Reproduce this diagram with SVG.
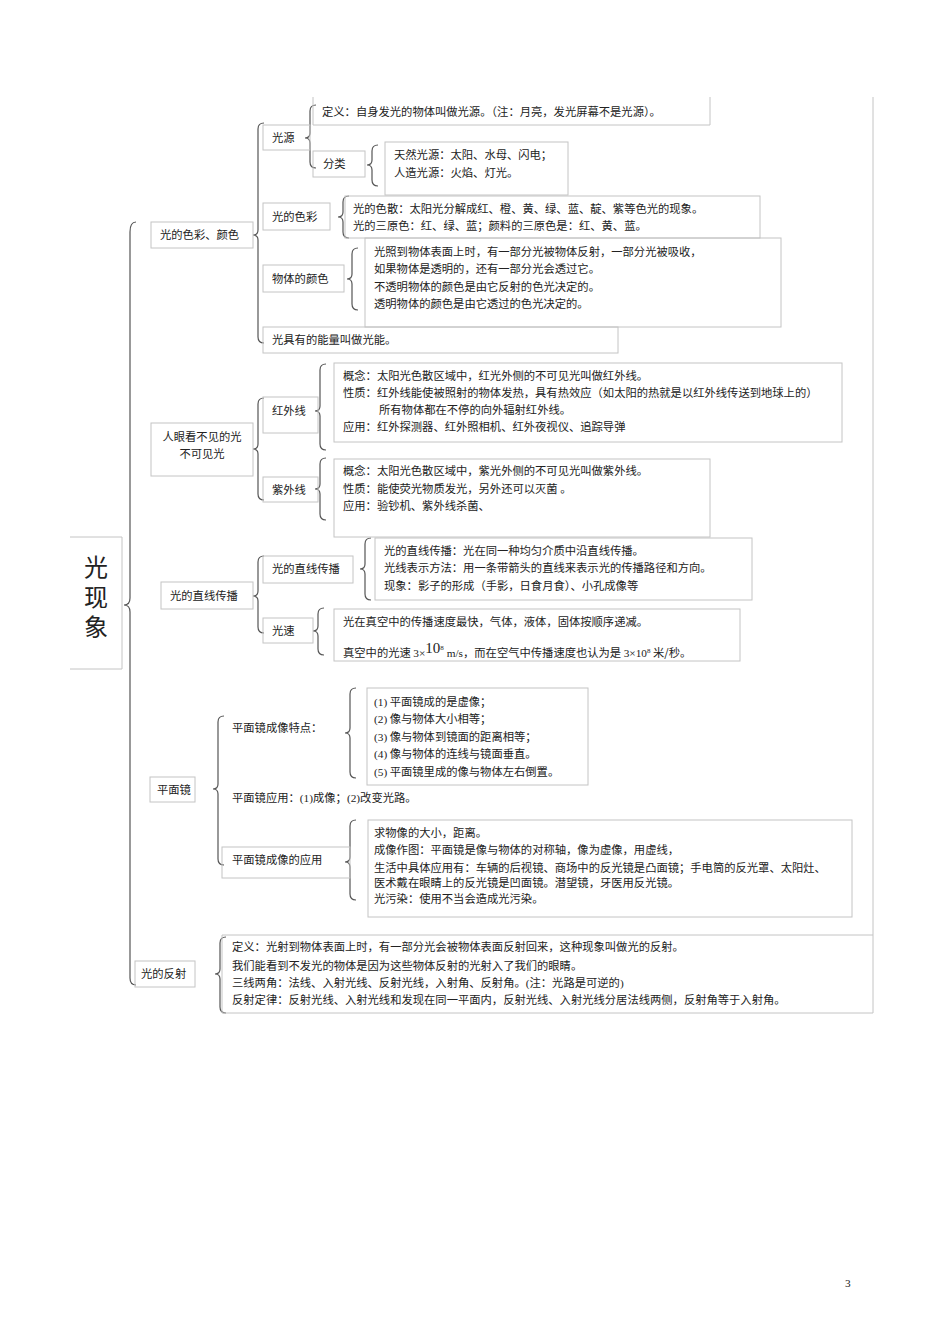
<svg xmlns="http://www.w3.org/2000/svg" width="950" height="1344" viewBox="0 0 950 1344">
<style>
text{font-family:"Noto Sans CJK SC","Liberation Serif",serif;font-size:11.3px;fill:#222}
.s{font-family:"Liberation Serif","Noto Sans CJK SC",serif}
.b{fill:none;stroke:#c4c4c4;stroke-width:1}
.br{fill:none;stroke:#555;stroke-width:1.2}
.big{font-size:24px}
</style>
<rect width="950" height="1344" fill="#fff"/>
<g id="connectors">
<line x1="873" y1="97" x2="873" y2="1013" class="b"/>
<path class="br" d="M136 222 Q130 222 130 232 L130 598 Q130 605 124 605 Q130 605 130 612 L130 978 Q130 985 136 985"/>
<path class="br" d="M264 123 Q258 123 258 129 L258 230 Q258 235 253 235 Q258 235 258 240 L258 337 Q258 343 264 343"/>
<path class="br" d="M316 105 Q310 105 310 111 L310 133 Q310 138 305 138 Q310 138 310 143 L310 162 Q310 168 316 168"/>
<path class="br" d="M378 145 Q372 145 372 151 L372 160 Q372 165 367 165 Q372 165 372 170 L372 180 Q372 186 378 186"/>
<path class="br" d="M349 196 Q343 196 343 202 L343 212 Q343 217 338 217 Q343 217 343 222 L343 232 Q343 238 349 238"/>
<path class="br" d="M358 248 Q352 248 352 254 L352 274 Q352 279 347 279 Q352 279 352 284 L352 304 Q352 310 358 310"/>
<path class="br" d="M264 398 Q258 398 258 404 L258 444 Q258 449 253 449 Q258 449 258 454 L258 494 Q258 500 264 500"/>
<path class="br" d="M326 364 Q320 364 320 370 L320 406 Q320 411 315 411 Q320 411 320 416 L320 444 Q320 450 326 450"/>
<path class="br" d="M326 458 Q320 458 320 464 L320 484 Q320 489 315 489 Q320 489 320 494 L320 514 Q320 520 326 520"/>
<path class="br" d="M264 556 Q258 556 258 562 L258 591 Q258 596 253 596 Q258 596 258 601 L258 627 Q258 633 264 633"/>
<path class="br" d="M371 538 Q365 538 365 544 L365 564 Q365 569 360 569 Q365 569 365 574 L365 594 Q365 600 371 600"/>
<path class="br" d="M324 608 Q318 608 318 614 L318 626 Q318 631 313 631 Q318 631 318 636 L318 649 Q318 655 324 655"/>
<path class="br" d="M224 716 Q218 716 218 722 L218 784 Q218 789 213 789 Q218 789 218 794 L218 859 Q218 865 224 865"/>
<path class="br" d="M356 688 Q350 688 350 694 L350 728 Q350 733 345 733 Q350 733 350 738 L350 772 Q350 778 356 778"/>
<path class="br" d="M356 820 Q350 820 350 826 L350 857 Q350 862 345 862 Q350 862 350 867 L350 894 Q350 900 356 900"/>
<path class="br" d="M226 937 Q220 937 220 943 L220 969 Q220 974 215 974 Q220 974 220 979 L220 1007 Q220 1013 226 1013"/>
</g>
<g id="root"><path class="b" d="M70 537 L122 537 L122 669 L70 669"/>
<text class="big" x="96" y="576" text-anchor="middle">光</text><text class="big" x="96" y="606" text-anchor="middle">现</text><text class="big" x="96" y="636" text-anchor="middle">象</text></g>
<g id="n-color"><rect class="b" x="151" y="222" width="102" height="26"/><text x="160" y="239">光的色彩、颜色</text></g>
<g id="n-invisible"><rect class="b" x="151" y="423" width="102" height="53"/><text x="202" y="441" text-anchor="middle">人眼看不见的光</text><text x="202" y="458" text-anchor="middle">不可见光</text></g>
<g id="n-straight"><rect class="b" x="161" y="582" width="92" height="27"/><text x="170" y="600">光的直线传播</text></g>
<g id="n-mirror"><rect class="b" x="150" y="777" width="45" height="25"/><text x="157" y="794">平面镜</text></g>
<g id="n-reflect"><rect class="b" x="135" y="961" width="60" height="26"/><text x="141" y="978">光的反射</text></g>
<g id="n-source"><rect class="b" x="263" y="125" width="47" height="25"/><text x="272" y="142">光源</text></g>
<g id="n-def"><path class="b" d="M313 97 L313 125 L710 125 L710 97"/><text x="322" y="116">定义：自身发光的物体叫做光源。（注：月亮，发光屏幕不是光源）。</text></g>
<g id="n-cls"><rect class="b" x="313" y="151" width="52" height="26"/><text x="323" y="168">分类</text></g>
<g id="n-cls-t"><rect class="b" x="385" y="142" width="183" height="53"/><text x="394" y="159">天然光源：太阳、水母、闪电；</text><text x="394" y="177">人造光源：火焰、灯光。</text></g>
<g id="n-hue"><rect class="b" x="263" y="203" width="67" height="27"/><text x="272" y="221">光的色彩</text></g>
<g id="n-hue-t"><rect class="b" x="345" y="196" width="415" height="42"/><text x="353" y="213">光的色散：太阳光分解成红、橙、黄、绿、蓝、靛、紫等色光的现象。</text><text x="353" y="230">光的三原色：红、绿、蓝；颜料的三原色是：红、黄、蓝。</text></g>
<g id="n-obj"><rect class="b" x="263" y="265" width="81" height="27"/><text x="272" y="283">物体的颜色</text></g>
<g id="n-obj-t"><rect class="b" x="365" y="238" width="416" height="89"/><text x="374" y="256">光照到物体表面上时，有一部分光被物体反射，一部分光被吸收，</text><text x="374" y="273">如果物体是透明的，还有一部分光会透过它。</text><text x="374" y="291">不透明物体的颜色是由它反射的色光决定的。</text><text x="374" y="308">透明物体的颜色是由它透过的色光决定的。</text></g>
<g id="n-energy"><rect class="b" x="263" y="327" width="355" height="26"/><text x="272" y="344">光具有的能量叫做光能。</text></g>
<g id="n-ir"><rect class="b" x="263" y="397" width="55" height="36"/><text x="272" y="415">红外线</text></g>
<g id="n-ir-t"><rect class="b" x="334" y="363" width="508" height="79"/><text x="343" y="380">概念：太阳光色散区域中，红光外侧的不可见光叫做红外线。</text><text x="343" y="397">性质：红外线能使被照射的物体发热，具有热效应（如太阳的热就是以红外线传送到地球上的）</text><text x="379" y="414">所有物体都在不停的向外辐射红外线。</text><text x="343" y="431">应用：红外探测器、红外照相机、红外夜视仪、追踪导弹</text></g>
<g id="n-uv"><rect class="b" x="263" y="477" width="55" height="25"/><text x="272" y="494">紫外线</text></g>
<g id="n-uv-t"><rect class="b" x="334" y="459" width="376" height="78"/><text x="343" y="475">概念：太阳光色散区域中，紫光外侧的不可见光叫做紫外线。</text><text x="343" y="493">性质：能使荧光物质发光，另外还可以灭菌 。</text><text x="343" y="510">应用：验钞机、紫外线杀菌、</text></g>
<g id="n-st"><rect class="b" x="263" y="556" width="90" height="27"/><text x="272" y="573">光的直线传播</text></g>
<g id="n-st-t"><rect class="b" x="375" y="538" width="377" height="62"/><text x="384" y="555">光的直线传播：光在同一种均匀介质中沿直线传播。</text><text x="384" y="572">光线表示方法：用一条带箭头的直线来表示光的传播路径和方向。</text><text x="384" y="590">现象：影子的形成（手影，日食月食）、小孔成像等</text></g>
<g id="n-speed"><rect class="b" x="263" y="618" width="50" height="25"/><text x="272" y="635">光速</text></g>
<g id="n-speed-t"><rect class="b" x="334" y="609" width="406" height="52"/><text x="343" y="626">光在真空中的传播速度最快，气体，液体，固体按顺序递减。</text><text x="343" y="657">真空中的光速 <tspan class="s">3×</tspan><tspan class="s" font-size="15" dy="-4">10</tspan><tspan class="s" font-size="7" dy="-3">8</tspan><tspan class="s" dy="7"> m/s</tspan>，而在空气中传播速度也认为是 <tspan class="s">3×10</tspan><tspan class="s" font-size="7" dy="-4">8</tspan><tspan dy="4"> 米/秒。</tspan></text></g>
<g id="n-feat"><text x="232" y="732">平面镜成像特点：</text></g>
<g id="n-feat-t"><rect class="b" x="367" y="688" width="221" height="97"/><text x="374" y="706"><tspan class="s">(1)</tspan> 平面镜成的是虚像；</text><text x="374" y="723"><tspan class="s">(2)</tspan> 像与物体大小相等；</text><text x="374" y="741"><tspan class="s">(3)</tspan> 像与物体到镜面的距离相等；</text><text x="374" y="758"><tspan class="s">(4)</tspan> 像与物体的连线与镜面垂直。</text><text x="374" y="776"><tspan class="s">(5)</tspan> 平面镜里成的像与物体左右倒置。</text></g>
<g id="n-use"><text x="232" y="802">平面镜应用：<tspan class="s">(1)</tspan>成像；<tspan class="s">(2)</tspan>改变光路。</text></g>
<g id="n-app"><rect class="b" x="222" y="847" width="128" height="31"/><text x="232" y="864">平面镜成像的应用</text></g>
<g id="n-app-t"><rect class="b" x="368" y="820" width="484" height="97"/><text x="374" y="837">求物像的大小，距离。</text><text x="374" y="854">成像作图：平面镜是像与物体的对称轴，像为虚像，用虚线，</text><text x="374" y="872">生活中具体应用有：车辆的后视镜、商场中的反光镜是凸面镜；手电筒的反光罩、太阳灶、</text><text x="374" y="887">医术戴在眼睛上的反光镜是凹面镜。潜望镜，牙医用反光镜。</text><text x="374" y="903">光污染：使用不当会造成光污染。</text></g>
<g id="n-ref-t"><path class="b" d="M873 935 L222 935 L222 1013 L873 1013"/><text x="232" y="951">定义：光射到物体表面上时，有一部分光会被物体表面反射回来，这种现象叫做光的反射。</text><text x="232" y="970">我们能看到不发光的物体是因为这些物体反射的光射入了我们的眼睛。</text><text x="232" y="987">三线两角：法线、入射光线、反射光线，入射角、反射角。<tspan class="s">(</tspan>注：光路是可逆的<tspan class="s">)</tspan></text><text x="232" y="1004">反射定律：反射光线、入射光线和发现在同一平面内，反射光线、入射光线分居法线两侧，反射角等于入射角。</text></g>
<text x="845" y="1287" font-size="9" class="s">3</text>
</svg>
